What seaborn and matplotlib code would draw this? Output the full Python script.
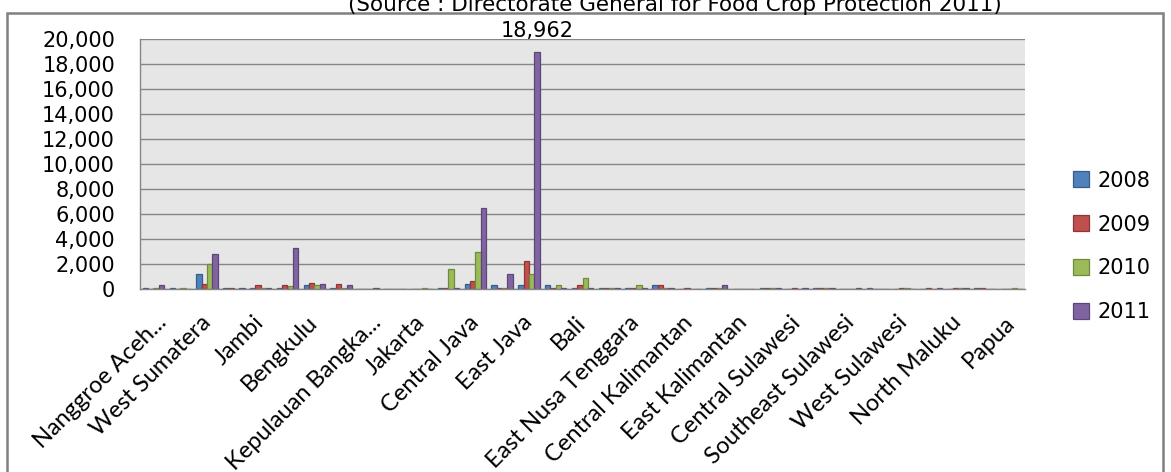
import numpy as np
import pandas as pd
import matplotlib
matplotlib.use("Agg")
import matplotlib.pyplot as plt
import matplotlib.patches as mpatches
from matplotlib.ticker import FuncFormatter
from matplotlib.transforms import ScaledTranslation
import seaborn as sns

# Provinces in chart order
provinces = [
    "Nanggroe Aceh Darussalam", "North Sumatera", "West Sumatera", "Riau",
    "Jambi", "South Sumatera", "Bengkulu", "Lampung",
    "Kepulauan Bangka Belitung", "Kepulauan Riau", "Jakarta", "West Java",
    "Central Java", "DI Yogyakarta", "East Java", "Banten", "Bali",
    "West Nusa Tenggara", "East Nusa Tenggara", "West Kalimantan",
    "Central Kalimantan", "South Kalimantan", "East Kalimantan",
    "North Sulawesi", "Central Sulawesi", "South Sulawesi",
    "Southeast Sulawesi", "Gorontalo", "West Sulawesi", "Maluku",
    "North Maluku", "West Papua", "Papua",
]

# Labels printed under every other category
tick_labels = [
    "Nanggroe Aceh...", "West Sumatera", "Jambi", "Bengkulu",
    "Kepulauan Bangka...", "Jakarta", "Central Java", "East Java", "Bali",
    "East Nusa Tenggara", "Central Kalimantan", "East Kalimantan",
    "Central Sulawesi", "Southeast Sulawesi", "West Sulawesi",
    "North Maluku", "Papua",
]

years = ["2008", "2009", "2010", "2011"]

values_2008 = [60, 60, 1150, 60, 60, 60, 290, 60, 0, 0, 0, 60, 370, 290, 290,
               290, 60, 60, 60, 290, 0, 60, 0, 60, 0, 60, 0, 60, 0, 0, 0, 60, 0]
values_2009 = [0, 0, 350, 60, 260, 270, 430, 350, 0, 0, 0, 60, 610, 60, 2220,
               60, 290, 60, 60, 290, 60, 60, 0, 60, 60, 60, 0, 0, 60, 60, 60, 60, 0]
values_2010 = [60, 60, 1980, 0, 60, 250, 290, 50, 0, 0, 60, 1580, 2910, 60, 1170,
               290, 850, 60, 290, 60, 0, 60, 0, 60, 0, 60, 0, 0, 60, 0, 60, 0, 60]
values_2011 = [290, 0, 2810, 60, 50, 3230, 350, 260, 60, 0, 0, 60, 6460, 1170, 18962,
               60, 60, 60, 60, 60, 0, 300, 0, 60, 60, 60, 60, 0, 0, 60, 60, 0, 0]

fill_colors = ["#4F81BD", "#C0504D", "#9BBB59", "#8064A2"]
edge_colors = ["#385D8A", "#8C3836", "#71893F", "#5C4776"]

df = pd.DataFrame({
    "Province": provinces * 4,
    "Year": np.repeat(years, len(provinces)),
    "Value": values_2008 + values_2009 + values_2010 + values_2011,
})

W, H = 1171, 472
fig = plt.figure(figsize=(W / 100, H / 100), dpi=100)
fig.patch.set_facecolor("white")
ax = fig.add_axes([140 / W, 1 - 288.7 / H, (1025 - 140) / W, (288.7 - 39) / H])

sns.barplot(data=df, x="Province", y="Value", hue="Year", order=provinces,
            hue_order=years, palette=fill_colors, saturation=1, width=0.8,
            ax=ax, errorbar=None, legend=False)

for cont, ec in zip(ax.containers, edge_colors):
    for bar in cont:
        bar.set_edgecolor(ec)
        bar.set_linewidth(0.9)

ax.set_facecolor("#E6E6E6")
ax.set_ylim(0, 20000)
ax.set_xlim(-0.5, len(provinces) - 0.5)
ax.set_yticks(np.arange(0, 20001, 2000))
ax.yaxis.set_major_formatter(FuncFormatter(lambda v, p: f"{v:,.0f}"))
ax.yaxis.grid(True, color="#868686", linewidth=1.0)
ax.xaxis.grid(False)
ax.set_axisbelow(True)
for side in ("top", "right"):
    ax.spines[side].set_visible(False)
for side in ("left", "bottom"):
    ax.spines[side].set_color("#868686")
    ax.spines[side].set_linewidth(1.0)

ax.set_xlabel("")
ax.set_ylabel("")
ax.tick_params(axis="y", length=0, pad=18, labelsize=15, labelcolor="black")
ax.tick_params(axis="x", length=0, pad=22)
ax.set_xticks(range(0, len(provinces), 2))
ax.set_xticklabels(tick_labels, rotation=45, ha="right", va="center",
                   rotation_mode="anchor", fontsize=17, family="Lato")
for lbl in ax.get_yticklabels():
    lbl.set_family("DejaVu Sans")
# shortened names sit a little further right
for lbl in ax.get_xticklabels():
    if lbl.get_text().endswith("..."):
        lbl.set_transform(lbl.get_transform()
                          + ScaledTranslation(0.1, 0, fig.dpi_scale_trans))

# Value label on the tallest bar
peak = max(values_2011)
ax.bar_label(ax.containers[3],
             labels=[f"{v:,.0f}" if v == peak else "" for v in values_2011],
             padding=8, fontsize=15, family="DejaVu Sans", clip_on=False)

# Legend
handles = [mpatches.Patch(facecolor=fc, edgecolor=ec, linewidth=0.9)
           for fc, ec in zip(fill_colors, edge_colors)]
fig.legend(handles, years, loc="upper left",
           bbox_to_anchor=(1058 / W, 1 - 156 / H), frameon=False,
           handlelength=0.8, handleheight=0.8,
           handletextpad=0.4, labelspacing=1.15, borderpad=0.2,
           prop={"family": "DejaVu Sans", "size": 15})

# Title line and outer chart frame
fig.text(675 / W, 1 - 11 / H,
         "(Source : Directorate General for Food Crop Protection 2011)",
         ha="center", va="baseline", fontsize=15.5, family="DejaVu Sans")
frame = mpatches.Rectangle((7 / W, -0.05), (1163 - 7) / W, 1.05 - 13 / H,
                           transform=fig.transFigure, fill=False,
                           edgecolor="#808080", linewidth=1.8, clip_on=False)
fig.patches.append(frame)

fig.savefig("out.png", dpi=100)
